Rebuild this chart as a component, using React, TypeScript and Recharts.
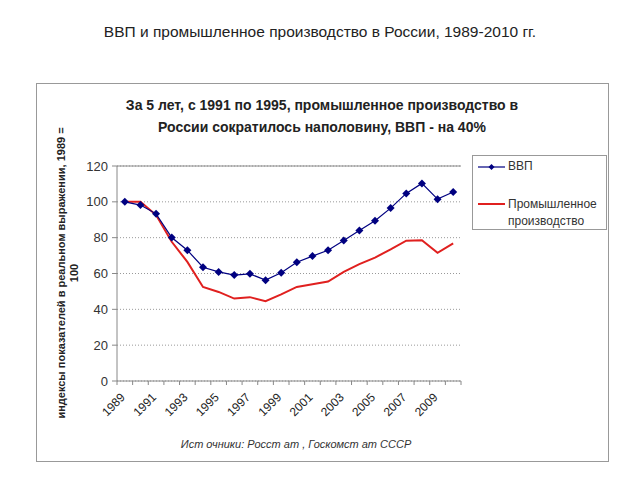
import React from 'react'
import { LineChart, Line, XAxis, YAxis, CartesianGrid, ReferenceLine } from 'recharts'

const years = [
  '1989', '1990', '1991', '1992', '1993', '1994', '1995', '1996', '1997', '1998', '1999',
  '2000', '2001', '2002', '2003', '2004', '2005', '2006', '2007', '2008', '2009', '2010',
]
const gdp = [
  100, 98.2, 93.3, 80.1, 73.0, 63.5, 60.9, 59.1, 59.8, 56.3, 60.4,
  66.3, 69.7, 73.0, 78.4, 84.0, 89.4, 96.5, 104.7, 110.3, 101.5, 105.5,
]
const industry = [
  100, 100, 92.6, 77.7, 66.5, 52.5, 49.7, 46.0, 46.8, 44.5, 48.3,
  52.5, 54.0, 55.5, 60.9, 65.2, 68.9, 73.4, 78.3, 78.6, 71.5, 76.8,
]
const yTicks = [0, 20, 40, 60, 80, 100, 120]

const data = years.map((year, i) => ({ year, gdp: gdp[i], industry: industry[i] }))

const FONT = '"Liberation Sans", Arial, sans-serif'
const PLOT_LEFT = 117
const PLOT_RIGHT = 461
const BAND = (PLOT_RIGHT - PLOT_LEFT) / years.length

function YearTick(props: any) {
  const { x, y, payload, index } = props
  const half = BAND / 2
  const last = index === years.length - 1
  return (
    <g>
      <line x1={x - half} y1={y} x2={x - half} y2={y + 4} stroke="#888" />
      {last && <line x1={x + half} y1={y} x2={x + half} y2={y + 4} stroke="#888" />}
      {index % 2 === 0 && (
        <text
          x={x + 1}
          y={y + 17}
          textAnchor="end"
          transform={`rotate(-45 ${x + 1} ${y + 17})`}
          fontSize={12}
          fill="#222"
          fontFamily={FONT}
        >
          {payload.value}
        </text>
      )}
    </g>
  )
}

function Diamond(props: any) {
  const { cx, cy } = props
  if (cx == null || cy == null) return null
  return <path d={`M${cx},${cy - 4}L${cx + 4},${cy}L${cx},${cy + 4}L${cx - 4},${cy}Z`} fill="#000080" />
}

export default function App() {
  return (
    <div style={{ position: 'relative', width: 640, height: 480, margin: '-8px 0 0 -8px', fontFamily: FONT, background: '#fff' }}>
      <div style={{ position: 'absolute', left: 0, width: 640, top: 23, textAlign: 'center', fontSize: 15.5, color: '#222' }}>
        ВВП и промышленное производство в России, 1989-2010 гг.
      </div>
      <div style={{ position: 'absolute', left: 36, top: 83, width: 571, height: 377, border: '1px solid #999' }} />
      <div style={{ position: 'absolute', left: 36, width: 572, top: 94, textAlign: 'center', fontSize: 14, fontWeight: 'bold', color: '#222', lineHeight: '22px' }}>
        За 5 лет, с 1991 по 1995, промышленное производство в
        <br />
        России сократилось наполовину, ВВП - на 40%
      </div>
      <LineChart
        width={640}
        height={480}
        data={data}
        margin={{ top: 166, right: 640 - PLOT_RIGHT, bottom: 59, left: PLOT_LEFT - 40 }}
        style={{ position: 'absolute', left: 0, top: 0 }}
      >
        <CartesianGrid horizontal vertical={false} stroke="#999" strokeDasharray="1 2" />
        <XAxis
          dataKey="year"
          scale="band"
          interval={0}
          height={40}
          tickLine={false}
          tickSize={0}
          tickMargin={0}
          axisLine={{ stroke: '#888' }}
          tick={<YearTick />}
        />
        <YAxis
          domain={[0, 120]}
          ticks={yTicks}
          width={40}
          tickSize={5}
          tickMargin={4}
          axisLine={{ stroke: '#888' }}
          tickLine={{ stroke: '#888' }}
          tick={{ fontSize: 13, fill: '#333', fontFamily: FONT }}
        />
        <YAxis yAxisId="r" orientation="right" width={0} tick={false} tickLine={false} axisLine={{ stroke: '#888' }} />
        <ReferenceLine y={120} stroke="#888" />
        <Line
          type="linear"
          dataKey="industry"
          stroke="#e0201f"
          strokeWidth={2}
          dot={false}
          isAnimationActive={false}
        />
        <Line
          type="linear"
          dataKey="gdp"
          stroke="#000080"
          strokeWidth={1.2}
          dot={<Diamond />}
          isAnimationActive={false}
        />
      </LineChart>
      <div
        style={{
          position: 'absolute',
          left: 62,
          top: 273,
          transform: 'translate(-50%, -50%) rotate(-90deg)',
          whiteSpace: 'nowrap',
          textAlign: 'center',
          fontSize: 11,
          fontWeight: 'bold',
          color: '#222',
          lineHeight: '13px',
          marginLeft: 6,
        }}
      >
        индексы показателей в реальном выражении, 1989 =
        <br />
        100
      </div>
      <div style={{ position: 'absolute', left: 472, top: 155, width: 133, height: 73, border: '1px solid #999', background: '#fff', fontSize: 12, color: '#333' }}>
        <svg width={30} height={10} style={{ position: 'absolute', left: 5, top: 6 }}>
          <line x1={0} y1={5} x2={27} y2={5} stroke="#000080" strokeWidth={1.2} />
          <path d="M13.5,2L16.5,5L13.5,8L10.5,5Z" fill="#000080" />
        </svg>
        <div style={{ position: 'absolute', left: 35, top: 3 }}>ВВП</div>
        <svg width={30} height={10} style={{ position: 'absolute', left: 5, top: 43 }}>
          <line x1={0} y1={5} x2={27} y2={5} stroke="#e0201f" strokeWidth={2} />
        </svg>
        <div style={{ position: 'absolute', left: 35, top: 40, lineHeight: '17px' }}>
          Промышленное
          <br />
          производство
        </div>
      </div>
      <div style={{ position: 'absolute', left: 36, width: 572, top: 438, textAlign: 'center', fontSize: 11, fontStyle: 'italic', color: '#333', marginLeft: -26 }}>
        Ист очники: Росст ат , Госкомст ат  СССР
      </div>
    </div>
  )
}
